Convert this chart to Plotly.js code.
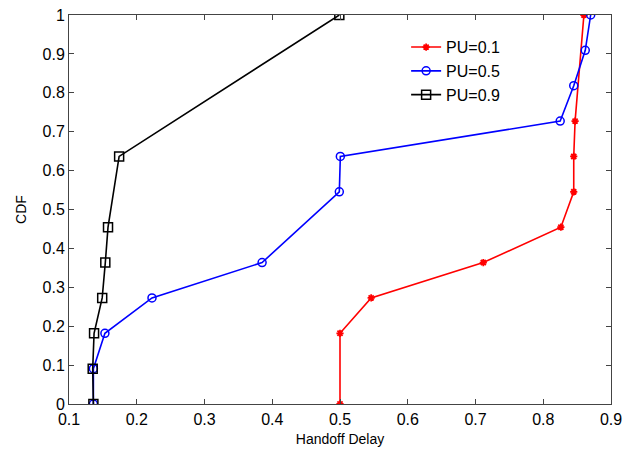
<!DOCTYPE html>
<html><head><meta charset="utf-8">
<script src="https://cdn.plot.ly/plotly-3.0.1.min.js"></script>
<style>html,body{margin:0;padding:0;background:#fff}#chart{width:634px;height:453px}</style>
</head><body><div id="chart"></div>
<script>
const names = ["PU=0.1", "PU=0.5", "PU=0.9"];
const pu01_x = [0.5, 0.5, 0.546, 0.7115, 0.826, 0.845, 0.845, 0.847, 0.860];
const pu01_y = [0, 0.1818, 0.2727, 0.3636, 0.4545, 0.5455, 0.6364, 0.7273, 1.0];
const pu05_x = [0.136, 0.136, 0.153, 0.2225, 0.385, 0.499, 0.5005, 0.825, 0.845, 0.862, 0.870];
const pu05_y = [0, 0.0909, 0.1818, 0.2727, 0.3636, 0.5455, 0.6364, 0.7273, 0.8182, 0.9091, 1.0];
const pu09_x = [0.136, 0.135, 0.137, 0.149, 0.1536, 0.1576, 0.174, 0.499];
const pu09_y = [0, 0.0909, 0.1818, 0.2727, 0.3636, 0.4545, 0.6364, 1.0];
const xTicks = [0.1, 0.2, 0.3, 0.4, 0.5, 0.6, 0.7, 0.8, 0.9];
const yTicks = [0, 0.1, 0.2, 0.3, 0.4, 0.5, 0.6, 0.7, 0.8, 0.9, 1];

const traces = [
  {x: pu01_x, y: pu01_y, name: names[0], mode: 'lines+markers',
   line: {color: '#ff0000', width: 1.6},
   marker: {symbol: 'asterisk-open', size: 6, color: '#ff0000', line: {color: '#ff0000', width: 1.8}}},
  {x: pu05_x, y: pu05_y, name: names[1], mode: 'lines+markers',
   line: {color: '#0000ff', width: 1.6},
   marker: {symbol: 'circle-open', size: 8, color: '#0000ff', line: {color: '#0000ff', width: 1.5}}},
  {x: pu09_x, y: pu09_y, name: names[2], mode: 'lines+markers',
   line: {color: '#000000', width: 1.6},
   marker: {symbol: 'square-open', size: 9, color: '#000000', line: {color: '#000000', width: 1.5}}}
];

const tickFont = {family: 'Liberation Sans, Arial, sans-serif', size: 16, color: '#000'};
const titleFont = {family: 'Liberation Sans, Arial, sans-serif', size: 14, color: '#000'};
const axisCommon = {
  showgrid: false, zeroline: false, showline: true, linecolor: '#444', linewidth: 1,
  mirror: 'ticks', ticks: 'inside', ticklen: 5, tickcolor: '#444', tickwidth: 1,
  tickfont: tickFont
};
const layout = {
  width: 634, height: 453,
  margin: {l: 69, r: 23, t: 15, b: 49},
  paper_bgcolor: '#fff', plot_bgcolor: '#fff',
  font: tickFont,
  showlegend: true,
  legend: {x: 0.622, y: 0.961, xanchor: 'left', yanchor: 'top', bgcolor: 'rgba(0,0,0,0)',
           borderwidth: 0, font: {family: 'Liberation Sans, Arial, sans-serif', size: 16, color: '#000'},
           tracegroupgap: 0},
  xaxis: Object.assign({}, axisCommon, {range: [0.1, 0.9], tickvals: xTicks,
    ticktext: xTicks.map(v => v.toFixed(1)), ticklabelstandoff: 1,
    title: {text: 'Handoff Delay', font: titleFont, standoff: 6}}),
  yaxis: Object.assign({}, axisCommon, {range: [0, 1], tickvals: yTicks,
    ticktext: yTicks.map(v => v === 0 ? '0' : v === 1 ? '1' : v.toFixed(1)),
    title: {text: 'CDF', font: titleFont, standoff: 12}})
};
Plotly.newPlot('chart', traces, layout, {displayModeBar: false, staticPlot: true});
</script></body></html>
